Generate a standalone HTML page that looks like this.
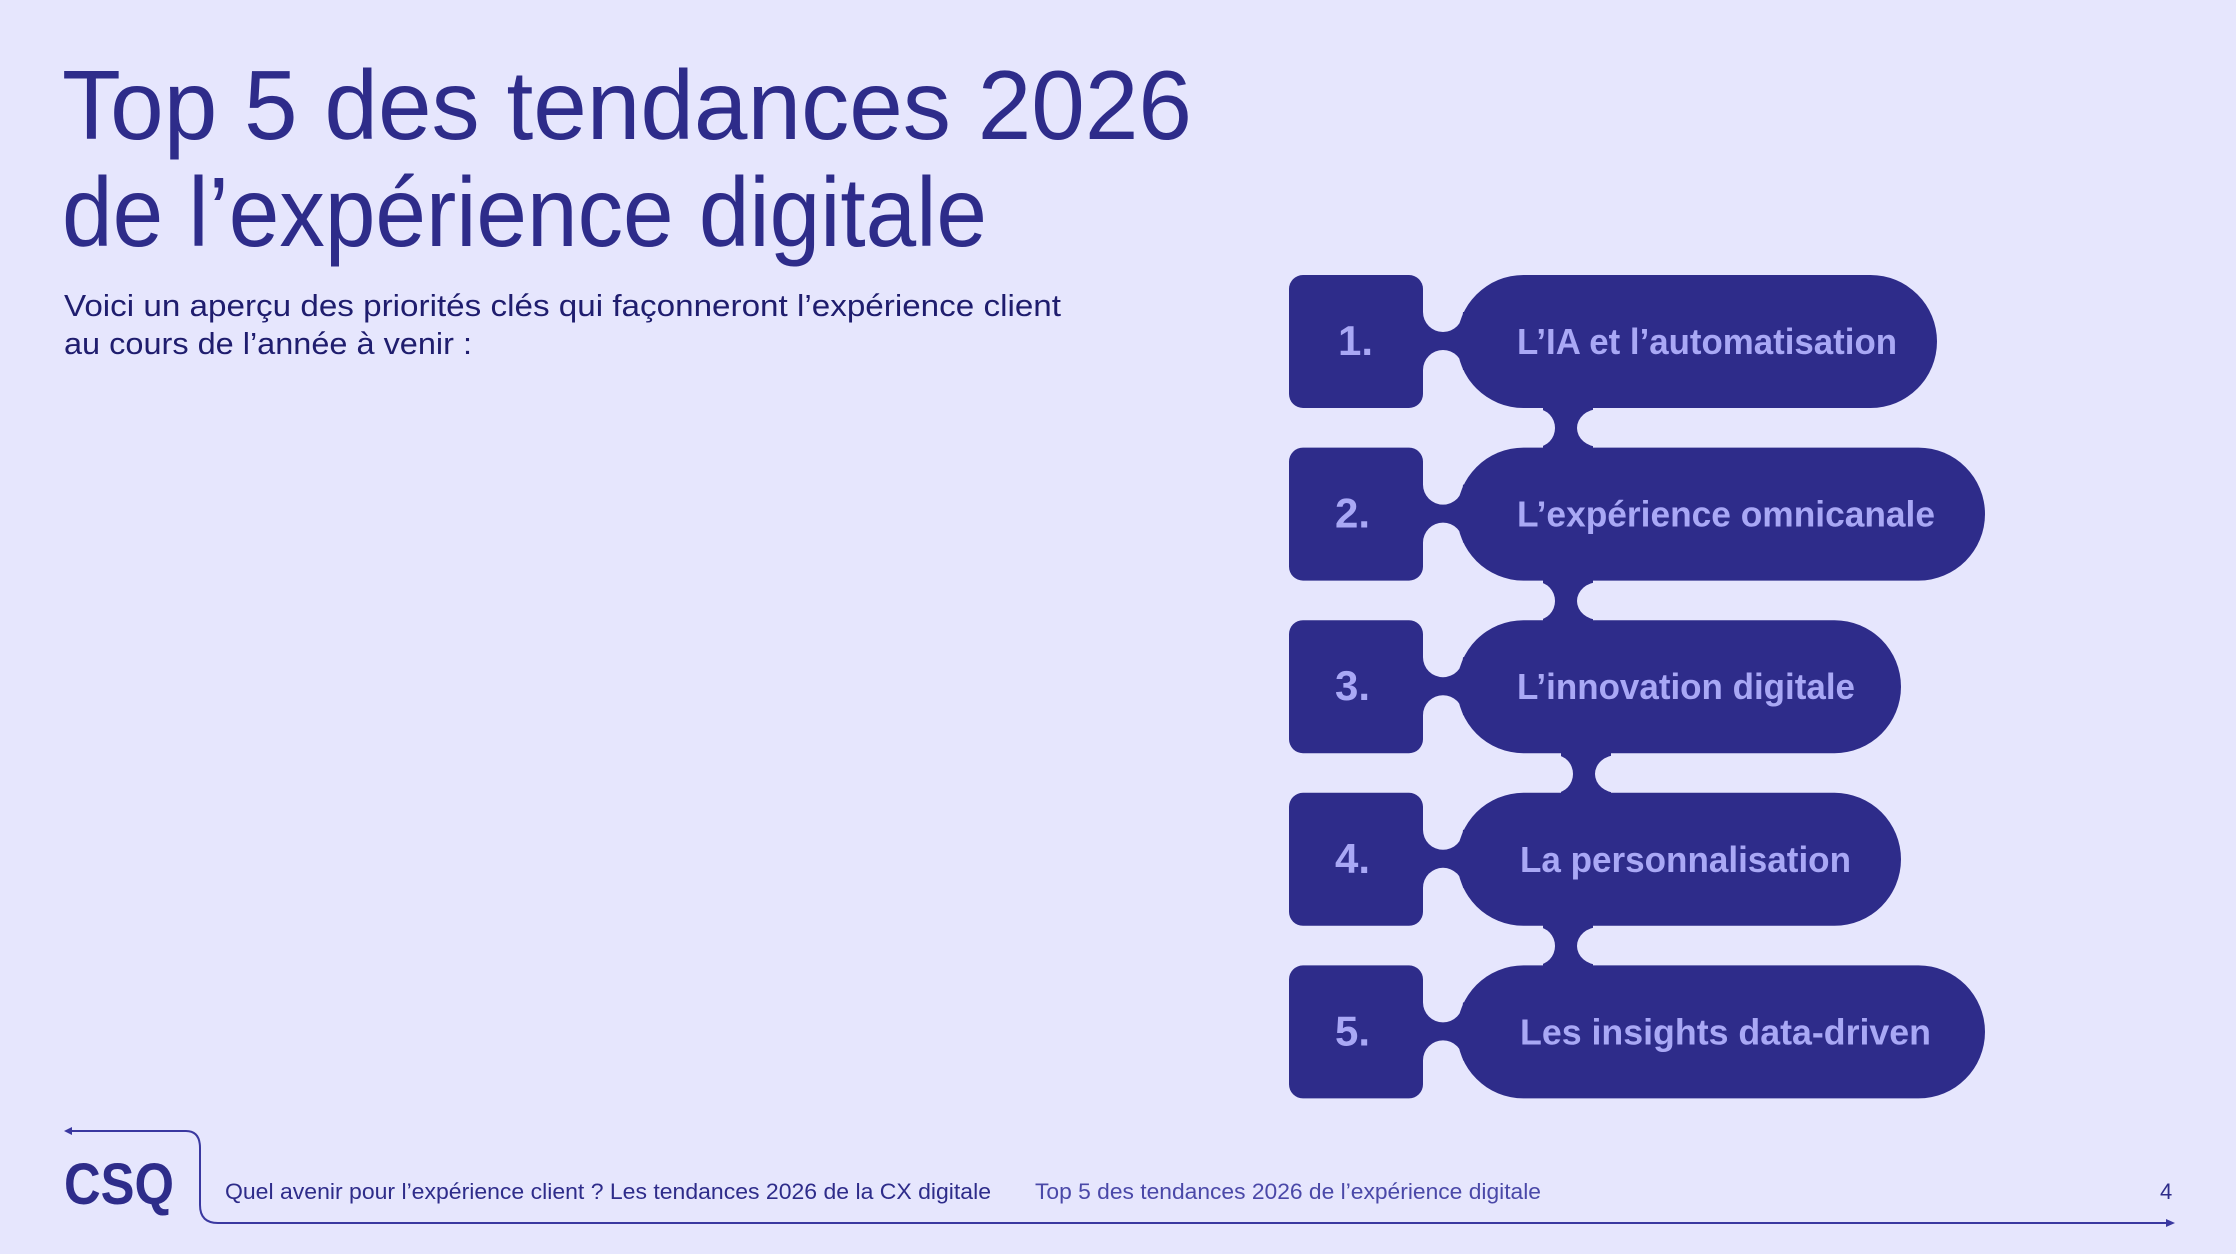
<!DOCTYPE html>
<html><head><meta charset="utf-8"><style>html,body{margin:0;padding:0;background:#e6e6fd}svg{display:block}</style></head>
<body>
<svg width="2236" height="1254" viewBox="0 0 2236 1254" xmlns="http://www.w3.org/2000/svg" font-family="Liberation Sans, sans-serif">
<rect width="2236" height="1254" fill="#e6e6fd"/>
<g fill="#2e2c8a">
<text x="62" y="139" font-size="98" textLength="1130" lengthAdjust="spacingAndGlyphs">Top 5 des tendances 2026</text>
<text x="62" y="246" font-size="98" textLength="925" lengthAdjust="spacingAndGlyphs">de l’expérience digitale</text>
<text x="64" y="316" font-size="31" fill="#1f1d6e" textLength="997" lengthAdjust="spacingAndGlyphs">Voici un aperçu des priorités clés qui façonneront l’expérience client</text>
<text x="64" y="354" font-size="31" fill="#1f1d6e" textLength="408" lengthAdjust="spacingAndGlyphs">au cours de l’année à venir :</text>
</g>
<g>
<rect x="1543" y="400" width="50" height="56" fill="#2e2c8a"/><ellipse cx="1537" cy="428" rx="18" ry="19" fill="#e6e6fd"/><ellipse cx="1599" cy="428" rx="22" ry="19" fill="#e6e6fd"/>
<rect x="1543" y="573" width="50" height="56" fill="#2e2c8a"/><ellipse cx="1537" cy="601" rx="18" ry="19" fill="#e6e6fd"/><ellipse cx="1599" cy="601" rx="22" ry="19" fill="#e6e6fd"/>
<rect x="1561" y="746" width="50" height="56" fill="#2e2c8a"/><ellipse cx="1555" cy="774" rx="18" ry="19" fill="#e6e6fd"/><ellipse cx="1617" cy="774" rx="22" ry="19" fill="#e6e6fd"/>
<rect x="1543" y="918" width="50" height="56" fill="#2e2c8a"/><ellipse cx="1537" cy="946" rx="18" ry="19" fill="#e6e6fd"/><ellipse cx="1599" cy="946" rx="22" ry="19" fill="#e6e6fd"/>
</g>
<defs>
<g id="nk"><rect x="1422" y="312" width="42" height="58" fill="#2e2c8a"/><circle cx="1443" cy="312" r="20" fill="#e6e6fd"/><circle cx="1443" cy="370" r="20" fill="#e6e6fd"/><rect x="1289" y="275" width="134" height="133" rx="14" fill="#2e2c8a"/></g>
</defs>
<g>
<use href="#nk"/>
<rect x="1457" y="275" width="480" height="133" rx="66.5" fill="#2e2c8a"/>
<text x="1338" y="355" font-size="42" font-weight="bold" fill="#a9a8f5">1.</text>
<text x="1517" y="354" font-size="36" font-weight="bold" fill="#a9a8f5" textLength="380" lengthAdjust="spacingAndGlyphs">L’IA et l’automatisation</text>
</g>
<g transform="translate(0,172.6)">
<use href="#nk"/>
<rect x="1457" y="275" width="528" height="133" rx="66.5" fill="#2e2c8a"/>
<text x="1335" y="355" font-size="42" font-weight="bold" fill="#a9a8f5">2.</text>
<text x="1517" y="354" font-size="36" font-weight="bold" fill="#a9a8f5" textLength="418" lengthAdjust="spacingAndGlyphs">L’expérience omnicanale</text>
</g>
<g transform="translate(0,345.2)">
<use href="#nk"/>
<rect x="1457" y="275" width="444" height="133" rx="66.5" fill="#2e2c8a"/>
<text x="1335" y="355" font-size="42" font-weight="bold" fill="#a9a8f5">3.</text>
<text x="1517" y="354" font-size="36" font-weight="bold" fill="#a9a8f5" textLength="338" lengthAdjust="spacingAndGlyphs">L’innovation digitale</text>
</g>
<g transform="translate(0,517.8)">
<use href="#nk"/>
<rect x="1457" y="275" width="444" height="133" rx="66.5" fill="#2e2c8a"/>
<text x="1335" y="355" font-size="42" font-weight="bold" fill="#a9a8f5">4.</text>
<text x="1520" y="354" font-size="36" font-weight="bold" fill="#a9a8f5" textLength="331" lengthAdjust="spacingAndGlyphs">La personnalisation</text>
</g>
<g transform="translate(0,690.4)">
<use href="#nk"/>
<rect x="1457" y="275" width="528" height="133" rx="66.5" fill="#2e2c8a"/>
<text x="1335" y="355" font-size="42" font-weight="bold" fill="#a9a8f5">5.</text>
<text x="1520" y="354" font-size="36" font-weight="bold" fill="#a9a8f5" textLength="411" lengthAdjust="spacingAndGlyphs">Les insights data-driven</text>
</g>
<g fill="none" stroke="#3a38a0" stroke-width="2">
<path d="M68 1131 H186 Q200 1131 200 1148 V1205 Q200 1223 218 1223 H2170"/>
</g>
<path d="M64 1131 l8 -4 v8 z" fill="#3a38a0"/>
<path d="M2175 1223 l-9 -4 v8 z" fill="#3a38a0"/>
<text x="64" y="1204" font-size="58" font-weight="bold" fill="#2e2c8a" textLength="110" lengthAdjust="spacingAndGlyphs">CSQ</text>
<text x="225" y="1199" font-size="22" fill="#2e2c8a" textLength="766" lengthAdjust="spacingAndGlyphs">Quel avenir pour l’expérience client ? Les tendances 2026 de la CX digitale</text>
<text x="1035" y="1199" font-size="22" fill="#4a48a8" textLength="506" lengthAdjust="spacingAndGlyphs">Top 5 des tendances 2026 de l’expérience digitale</text>
<text x="2160" y="1199" font-size="22" fill="#2e2c8a">4</text>
</svg>
</body></html>
